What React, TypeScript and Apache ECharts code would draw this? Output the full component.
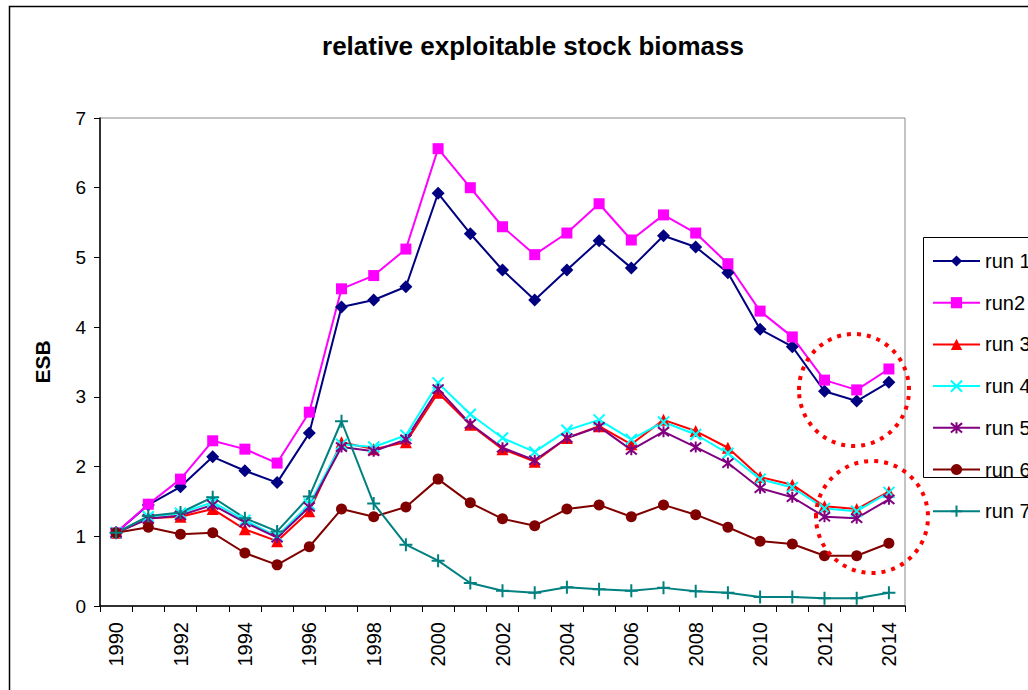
import React, { useEffect, useRef } from "react";
import * as echarts from "echarts";

const years = ["1990","1991","1992","1993","1994","1995","1996","1997","1998","1999","2000","2001","2002","2003","2004","2005","2006","2007","2008","2009","2010","2011","2012","2013","2014"];

const run1 = [1.05,1.45,1.71,2.14,1.94,1.77,2.48,4.29,4.39,4.58,5.92,5.34,4.82,4.39,4.82,5.24,4.85,5.31,5.15,4.78,3.97,3.72,3.08,2.94,3.21];
const run2 = [1.05,1.46,1.82,2.37,2.25,2.05,2.78,4.55,4.74,5.12,6.56,6.0,5.44,5.04,5.35,5.77,5.25,5.61,5.35,4.91,4.23,3.86,3.24,3.10,3.40];
const run3 = [1.05,1.26,1.28,1.39,1.10,0.93,1.36,2.35,2.25,2.35,3.06,2.60,2.25,2.07,2.41,2.58,2.32,2.67,2.51,2.27,1.85,1.74,1.43,1.39,1.64];
const run4 = [1.05,1.28,1.33,1.49,1.23,1.00,1.46,2.32,2.28,2.45,3.20,2.75,2.41,2.21,2.52,2.67,2.39,2.64,2.46,2.19,1.82,1.70,1.40,1.36,1.63];
const run5 = [1.05,1.25,1.30,1.45,1.20,0.98,1.42,2.28,2.22,2.39,3.11,2.61,2.27,2.09,2.41,2.57,2.24,2.50,2.28,2.05,1.69,1.56,1.28,1.26,1.53];
const run6 = [1.05,1.13,1.03,1.05,0.76,0.59,0.85,1.39,1.28,1.42,1.82,1.48,1.25,1.15,1.39,1.45,1.28,1.45,1.31,1.13,0.93,0.89,0.72,0.72,0.90];
const run7 = [1.05,1.29,1.34,1.56,1.26,1.07,1.57,2.65,1.47,0.88,0.65,0.33,0.22,0.19,0.27,0.24,0.22,0.26,0.21,0.19,0.13,0.13,0.11,0.11,0.19];

const seriesNames = ["run 1","run2","run 3","run 4","run 5","run 6","run 7"];
const yTicks = [0,1,2,3,4,5,6,7];

const FONT = "Liberation Sans, Arial, sans-serif";

const X_PATH = "path://M0,0L10,10M10,0L0,10";
const STAR_PATH = "path://M0,0L10,10M10,0L0,10M5,-1L5,11";
const PLUS_PATH = "path://M5,0L5,10M0,5L10,5";

const CHART_W = 1160;

export default function App() {
  const ref = useRef<HTMLDivElement>(null);
  useEffect(() => {
    if (!ref.current) return;
    const chart = echarts.init(ref.current, null, { renderer: "svg" });
    const mk = (name: string, data: number[], color: string, symbol: string, size: number, stroked: boolean) => ({
      name,
      type: "line",
      data,
      symbol,
      symbolSize: size,
      showSymbol: true,
      lineStyle: { color, width: 2 },
      itemStyle: stroked
        ? { color, borderColor: color, borderWidth: 2 }
        : { color, borderWidth: 0 },
      emphasis: { disabled: true },
      z: 3,
    });
    chart.setOption({
      animation: false,
      backgroundColor: "#fff",
      textStyle: { fontFamily: FONT },
      title: {
        text: "relative exploitable stock biomass",
        left: 528,
        textAlign: "center",
        top: 28,
        textStyle: { fontFamily: FONT, fontSize: 26, fontWeight: "bold", color: "#000" },
      },
      grid: {
        left: 100,
        top: 118,
        right: CHART_W - 905,
        bottom: 84,
        show: true,
        borderColor: "#888",
        borderWidth: 1,
        backgroundColor: "transparent",
      },
      legend: {
        orient: "vertical",
        left: 932,
        top: 251,
        padding: 0,
        itemWidth: 47,
        itemHeight: 14,
        itemGap: 21.7,
        data: seriesNames,
        textStyle: { fontFamily: FONT, fontSize: 20, color: "#000", lineHeight: 14, padding: [0, 0, 0, 0] },
        selectedMode: false,
      },
      xAxis: {
        type: "category",
        data: years,
        boundaryGap: true,
        axisLine: { lineStyle: { color: "#000", width: 1.5 } },
        axisTick: { show: true, interval: 0, length: 6, inside: false, lineStyle: { color: "#000", width: 1 } },
        axisLabel: {
          interval: 1,
          rotate: 90,
          margin: 16,
          fontFamily: FONT,
          fontSize: 20,
          color: "#000",
        },
        splitLine: { show: false },
      },
      yAxis: {
        type: "value",
        min: yTicks[0],
        max: yTicks[yTicks.length - 1],
        interval: 1,
        name: "ESB",
        nameLocation: "middle",
        nameRotate: 90,
        nameGap: 47,
        nameTextStyle: { fontFamily: FONT, fontSize: 21, fontWeight: "bold", color: "#000" },
        axisLine: { show: true, lineStyle: { color: "#000", width: 1.5 } },
        axisTick: { show: true, length: 6, lineStyle: { color: "#000", width: 1 } },
        axisLabel: { margin: 14, fontFamily: FONT, fontSize: 19, color: "#000" },
        splitLine: { show: false },
      },
      graphic: [
        {
          type: "rect",
          shape: { x: 9.5, y: 6.5, width: 1300, height: 800 },
          style: { fill: "none", stroke: "#000", lineWidth: 1.5 },
          silent: true,
          z: -10,
        },
        {
          type: "rect",
          shape: { x: 923.5, y: 237.5, width: 200, height: 240 },
          style: { fill: "none", stroke: "#000", lineWidth: 1 },
          silent: true,
        },
        {
          type: "ellipse",
          shape: { cx: 854, cy: 390, rx: 55, ry: 56 },
          style: { fill: "none", stroke: "#FF0000", lineWidth: 4, lineDash: [4, 6] },
          silent: true,
          z: 100,
        },
        {
          type: "ellipse",
          shape: { cx: 872, cy: 517, rx: 56, ry: 56 },
          style: { fill: "none", stroke: "#FF0000", lineWidth: 4, lineDash: [4, 6] },
          silent: true,
          z: 100,
        },
      ],
      series: [
        mk(seriesNames[0], run1, "#000080", "diamond", 13, false),
        mk(seriesNames[1], run2, "#FF00FF", "rect", 11, false),
        mk(seriesNames[2], run3, "#FF0000", "triangle", 12, false),
        mk(seriesNames[3], run4, "#00FFFF", X_PATH, 11, true),
        mk(seriesNames[4], run5, "#800080", STAR_PATH, 11, true),
        mk(seriesNames[5], run6, "#800000", "circle", 11, false),
        mk(seriesNames[6], run7, "#008080", PLUS_PATH, 13, true),
      ],
    });
    return () => chart.dispose();
  }, []);
  return (
    <div style={{ position: "absolute", left: 0, top: 0, width: 1028, height: 690, overflow: "hidden" }}>
      <div ref={ref} style={{ width: CHART_W, height: 690 }} />
    </div>
  );
}
